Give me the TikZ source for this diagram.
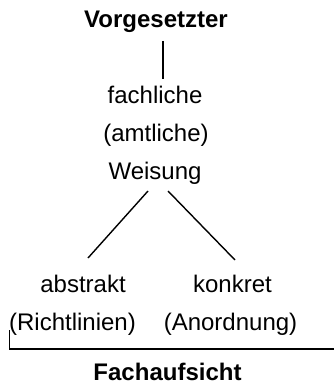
\documentclass[tikz,border=0pt]{standalone}
\usepackage{fontspec}
\setmainfont{Liberation Sans}
\begin{document}
\begin{tikzpicture}[x=1pt,y=-1pt,
  lbl/.style={inner sep=0pt,anchor=base,font=\fontsize{24}{28}\selectfont},
  blbl/.style={lbl,font=\fontsize{24}{28}\selectfont\bfseries},
  conn/.style={line width=1.4pt,black}]
\useasboundingbox (0,0) rectangle (334,385);
\node[blbl] (vor) at (156,28) {Vorgesetzter};
\node[lbl] (fach) at (155,103) {fachliche};
\node[lbl] (amt) at (156,141) {(amtliche)};
\node[lbl] (weis) at (155,179) {Weisung};
\node[lbl] (abs) at (83,292) {abstrakt};
\node[lbl] (kon) at (232.5,292) {konkret};
\node[lbl] (richt) at (72.5,330) {(Richtlinien)};
\node[lbl] (anord) at (230.5,330) {(Anordnung)};
\node[blbl] (fa) at (167.5,380) {Fachaufsicht};
\coordinate (vtop) at (163,41);
\coordinate (vbot) at (163,79);
\coordinate (wl) at (148,191);
\coordinate (wr) at (168,191);
\coordinate (al) at (88,258);
\coordinate (kr) at (235,260);
\coordinate (bt) at (9.5,330);
\coordinate (bc) at (9.5,349);
\coordinate (be) at (334,349);
\draw[conn] (vtop) -- (vbot);
\draw[conn] (wl) -- (al);
\draw[conn] (wr) -- (kr);
\draw[conn] (bt) -- (bc) -- (be);
\end{tikzpicture}
\end{document}
